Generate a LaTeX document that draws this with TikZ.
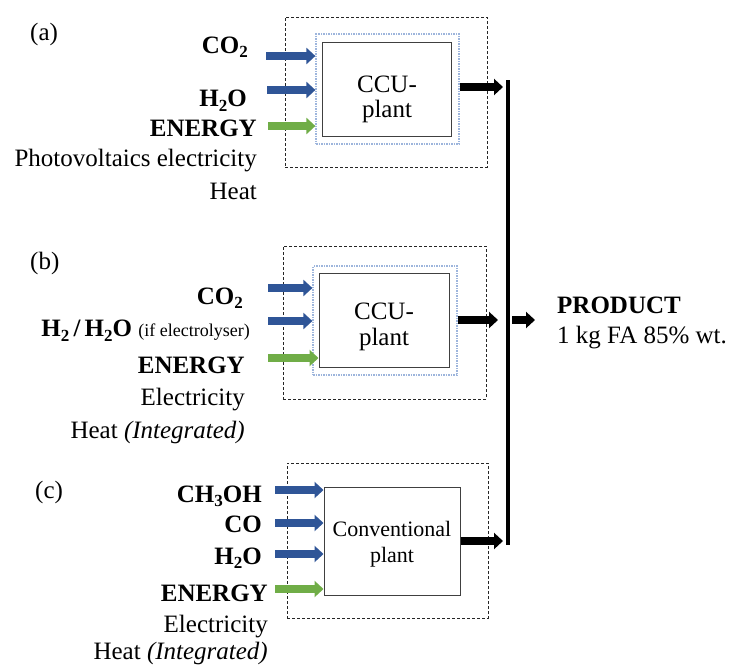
\documentclass[tikz,border=0pt]{standalone}
\usepackage{fontspec}
\setmainfont{Liberation Serif}
\usetikzlibrary{arrows.meta}
\definecolor{arrblue}{HTML}{2F5597}
\definecolor{arrgreen}{HTML}{70AD47}
\definecolor{dotblue}{HTML}{9DB5DC}
\newcommand\chsub[1]{\raisebox{-4.5pt}{\fontsize{17}{17}\selectfont #1}}
\begin{document}
\begin{tikzpicture}[x=1pt,y=-1pt,
  lbl/.style={inner sep=0pt, anchor=base east, font=\fontsize{25}{30}\selectfont},
  lblb/.style={lbl, font=\fontsize{25}{30}\selectfont\bfseries},
  tag/.style={inner sep=0pt, anchor=base west, font=\fontsize{25}{30}\selectfont},
  intext/.style={inner sep=0pt, anchor=base, font=\fontsize{25}{30}\selectfont},
  dashbox/.style={draw=black!85, line width=0.9pt, dash pattern=on 3pt off 2pt, inner sep=0pt},
  dotbox/.style={draw=dotblue, line width=1.2pt, dash pattern=on 1.5pt off 1pt, inner sep=0pt},
  plantbox/.style={draw=black!75, line width=1pt, fill=white, inner sep=0pt},
  fatin/.style={line width=8pt, -{Triangle[length=9pt,width=16pt]}},
  blueflow/.style={fatin, draw=arrblue},
  greenflow/.style={fatin, draw=arrgreen},
  outflow/.style={line width=8pt, draw=black, -{Triangle[length=9pt,width=16pt]}}
]
\useasboundingbox (0,0) rectangle (730,664);

% ---------- panel (a) ----------
\node[dashbox, minimum width=202pt, minimum height=150pt] (outA) at (386,92) {};
\node[dotbox, minimum width=143pt, minimum height=110pt] (dotA) at (387.5,89) {};
\node[plantbox, minimum width=129pt, minimum height=94pt] (plantA) at (386.5,89) {};
\node[intext] (tA1) at (387,92) {CCU-};
\node[intext] (tA2) at (387,117) {plant};

\node[tag] (labA) at (30,40) {(a)};
\node[lblb] (a1) at (248,53) {CO\chsub{2}};
\node[lblb] (a2) at (247,106.5) {H\chsub{2}O};
\node[lblb] (a3) at (257,136.5) {ENERGY};
\node[lbl] (a4) at (257,166.5) {Photovoltaics electricity};
\node[lbl] (a5) at (257,199) {Heat};

\coordinate (sa1) at (266,56);
\coordinate (sa2) at (267,90);
\coordinate (sa3) at (268,126);
\draw[blueflow] (sa1) -- (sa1 -| dotA.west);
\draw[blueflow] (sa2) -- (sa2 -| dotA.west);
\draw[greenflow] (sa3) -- (sa3 -| dotA.west);

% ---------- panel (b) ----------
\node[dashbox, minimum width=203pt, minimum height=153pt] (outB) at (384.5,322.5) {};
\node[dotbox, minimum width=144pt, minimum height=109pt] (dotB) at (385,320.5) {};
\node[plantbox, minimum width=130pt, minimum height=94pt] (plantB) at (384,320) {};
\node[intext] (tB1) at (384,319) {CCU-};
\node[intext] (tB2) at (384,345) {plant};

\node[tag] (labB) at (30,269) {(b)};
\node[lblb] (b1) at (243,304) {CO\chsub{2}};
\node[lbl] (b2) at (250,336.5) {\textbf{H\chsub{2}\,/\,H\chsub{2}O} {\fontsize{18}{20}\selectfont (if electrolyser)}};
\node[lblb] (b3) at (245,373) {ENERGY};
\node[lbl] (b4) at (245,405) {Electricity};
\node[lbl] (b5) at (245,438) {Heat \textit{(Integrated)}};

\coordinate (sb1) at (268,288);
\coordinate (sb2) at (268,321);
\coordinate (sb3) at (268,358);
\draw[blueflow] (sb1) -- (sb1 -| dotB.west);
\draw[blueflow] (sb2) -- (sb2 -| dotB.west);
\draw[greenflow] (sb3) -- (sb3 -| plantB.west);

% ---------- panel (c) ----------
\node[dashbox, minimum width=201pt, minimum height=155pt] (outC) at (387.5,540.5) {};
\node[plantbox, minimum width=136pt, minimum height=108pt] (plantC) at (392,541) {};
\node[intext, font=\fontsize{22}{26}\selectfont] (tC1) at (392,536.5) {Conventional};
\node[intext, font=\fontsize{22}{26}\selectfont] (tC2) at (392,562) {plant};

\node[tag] (labC) at (35,498) {(c)};
\node[lblb] (c1) at (262,502) {CH\chsub{3}OH};
\node[lblb] (c2) at (262,532.5) {CO};
\node[lblb] (c3) at (262,564) {H\chsub{2}O};
\node[lblb] (c4) at (268,601.5) {ENERGY};
\node[lbl] (c5) at (268,632) {Electricity};
\node[lbl] (c6) at (268,659) {Heat \textit{(Integrated)}};

\coordinate (sc1) at (275,490);
\coordinate (sc2) at (275,523);
\coordinate (sc3) at (275,554);
\coordinate (sc4) at (275,589);
\draw[blueflow] (sc1) -- (sc1 -| plantC.west);
\draw[blueflow] (sc2) -- (sc2 -| plantC.west);
\draw[blueflow] (sc3) -- (sc3 -| plantC.west);
\draw[greenflow] (sc4) -- (sc4 -| plantC.west);

% ---------- collector bar and product ----------
\coordinate (barT) at (508,80);
\coordinate (barB) at (508,545);
\draw[line width=3.5pt] (barT) -- (barB);

\coordinate (ea) at (503,87);
\coordinate (eb) at (498,320);
\coordinate (ec) at (503,541);
\draw[outflow] (ea -| dotA.east) -- (ea);
\draw[outflow] (eb -| dotB.east) -- (eb);
\draw[outflow] (ec -| plantC.east) -- (ec);

\node[inner sep=0pt, anchor=base west, font=\fontsize{25}{30}\selectfont\bfseries] (prod) at (557,313) {PRODUCT};
\node[inner sep=0pt, anchor=base west, font=\fontsize{25}{30}\selectfont] (prod2) at (557,343) {1 kg FA 85\% wt.};
\coordinate (ps) at (512,320);
\coordinate (pe) at (535,320);
\draw[outflow] (ps) -- (pe);
\end{tikzpicture}
\end{document}
